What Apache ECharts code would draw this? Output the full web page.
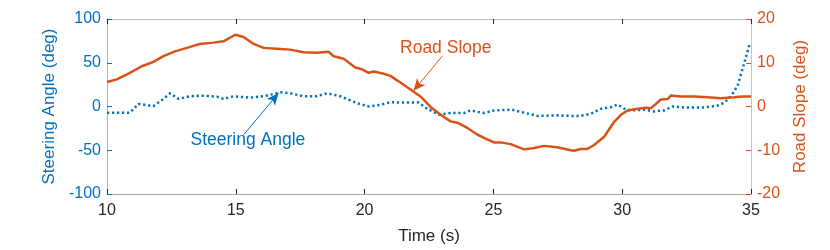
<!DOCTYPE html>
<html><head><meta charset="utf-8">
<script src="https://cdn.jsdelivr.net/npm/echarts@6/dist/echarts.min.js"></script>
<style>html,body{margin:0;padding:0;background:#fff}#c{width:830px;height:250px}</style>
</head><body><div id="c"></div>
<script>
const xTicks = [10, 15, 20, 25, 30, 35];
const leftTicks = [-100, -50, 0, 50, 100];
const rightTicks = [-20, -10, 0, 10, 20];

const slopeTime = [10.0,10.38,10.89,11.35,11.8,12.19,12.64,13.1,13.6,14.13,14.52,14.98,15.3,15.69,16.08,16.6,17.11,17.63,18.15,18.6,18.8,19.19,19.64,19.9,20.16,20.35,20.74,21.0,21.39,21.85,22.17,22.56,22.95,23.34,23.6,23.99,24.37,24.76,25.02,25.28,25.67,26.19,26.58,26.96,27.48,28.0,28.13,28.39,28.65,28.91,29.3,29.69,29.95,30.21,30.6,30.92,31.11,31.31,31.5,31.76,31.89,32.28,32.8,33.32,33.83,34.35,34.68,35.0];
const slopeValue = [5.6,6.2,7.7,9.2,10.2,11.5,12.6,13.4,14.3,14.6,14.9,16.4,15.9,14.3,13.4,13.2,13.0,12.4,12.3,12.5,11.5,10.9,8.9,8.5,7.7,8.0,7.5,7.0,5.5,3.6,2.3,-0.1,-1.9,-3.4,-3.7,-4.9,-6.4,-7.5,-8.2,-8.2,-8.6,-9.8,-9.5,-9.0,-9.3,-10.0,-10.1,-9.7,-9.7,-8.8,-6.9,-3.5,-1.9,-0.9,-0.5,-0.3,-0.4,0.6,1.6,1.7,2.5,2.3,2.3,2.1,1.9,2.1,2.3,2.3];

const steerTime = [10.0,10.89,11.22,11.8,12.19,12.45,12.77,13.23,13.74,14.26,14.52,14.91,15.56,16.08,16.73,17.11,17.63,18.15,18.54,19.06,19.7,20.16,20.61,21.0,21.52,22.1,22.43,22.88,23.34,23.86,24.11,24.63,25.02,25.73,26.19,26.71,27.48,28.0,28.39,28.78,29.17,29.56,29.82,30.08,30.34,30.86,31.24,31.63,31.95,32.41,33.19,33.71,33.96,34.22,34.48,34.74,34.94,35.0];
const steerValue = [-7.1,-7.1,3.0,0.4,8.7,15.1,8.7,11.7,12.4,11.3,8.7,11.7,10.1,11.7,16.2,15.1,11.7,11.7,15.1,11.7,3.8,0,1.9,4.9,4.5,4.5,-2.6,-9.3,-7.5,-7.5,-4.5,-7.5,-4.5,-3.7,-7.1,-10.8,-10.1,-10.8,-10.8,-8.2,-2.6,-0.7,2.3,-2.6,-4.5,-3.7,-5.6,-4.5,0,-1.1,-1.1,1.1,4.2,11.7,23.6,50,70.6,72.5];

// annotations: [arrow start, arrow end] and label centre, in data units
const slopeArrow = [[23.01, 11.5], [21.9, 3.6]];
const slopeLabel = [23.15, 13.3];
const steerArrow = [[15.3, -32.5], [16.66, 15.3]];
const steerLabel = [15.47, -38.0];

const BLUE = '#0072BD', ORANGE = '#D95319';
const FONT = 'Liberation Sans, Arial, sans-serif';

const chart = echarts.init(document.getElementById('c'), null, {renderer: 'canvas'});
const zip = (a, b) => a.map((t, i) => [t, b[i]]);

const option = {
  animation: false,
  grid: {left: 107, right: 79, top: 19, bottom: 53},
  xAxis: [{
    type: 'value', min: xTicks[0], max: xTicks[xTicks.length-1], interval: 5, position: 'bottom',
    name: 'Time (s)', nameLocation: 'middle', nameGap: 34,
    nameTextStyle: {color: '#262626', fontSize: 17, fontFamily: FONT},
    axisLine: {onZero: false, lineStyle: {color: '#a8a8a8', width: 1}},
    axisTick: {inside: true, length: 5, lineStyle: {color: '#262626'}},
    axisLabel: {color: '#262626', fontSize: 16, fontFamily: FONT, margin: 9},
    splitLine: {show: false}
  }, {
    type: 'value', min: xTicks[0], max: xTicks[xTicks.length-1], interval: 5, position: 'top',
    axisLine: {onZero: false, lineStyle: {color: '#c0c0c0', width: 1}},
    axisTick: {inside: true, length: 5, lineStyle: {color: '#262626'}},
    axisLabel: {show: false}, splitLine: {show: false}
  }],
  yAxis: [{
    type: 'value', min: leftTicks[0], max: leftTicks[leftTicks.length-1], interval: 50, position: 'left',
    name: 'Steering Angle (deg)', nameLocation: 'middle', nameGap: 43, nameRotate: 90,
    nameTextStyle: {color: BLUE, fontSize: 17, fontFamily: FONT},
    axisLine: {show: true, onZero: false, lineStyle: {color: '#8fc0e6', width: 1}},
    axisTick: {show: true, inside: true, length: 5, lineStyle: {color: BLUE}},
    axisLabel: {color: BLUE, fontSize: 16, fontFamily: FONT, margin: 6},
    splitLine: {show: false}
  }, {
    type: 'value', min: rightTicks[0], max: rightTicks[rightTicks.length-1], interval: 10, position: 'right',
    name: 'Road Slope (deg)', nameLocation: 'middle', nameGap: 41, nameRotate: 90,
    nameTextStyle: {color: ORANGE, fontSize: 17, fontFamily: FONT},
    axisLine: {show: true, onZero: false, lineStyle: {color: '#f2b49a', width: 1}},
    axisTick: {show: true, inside: true, length: 5, lineStyle: {color: ORANGE}},
    axisLabel: {color: ORANGE, fontSize: 16, fontFamily: FONT, margin: 6},
    splitLine: {show: false}
  }],
  series: [{
    name: 'Steering Angle', type: 'line', yAxisIndex: 0, xAxisIndex: 0,
    data: zip(steerTime, steerValue), showSymbol: false, symbol: 'none', smooth: false,
    lineStyle: {color: BLUE, width: 2.5, type: [2.2, 2.8]},
    markLine: {
      silent: true, symbol: ['none', 'arrow'], symbolSize: [8, 12],
      lineStyle: {color: BLUE, width: 1, type: 'solid'}, label: {show: false},
      data: [[{coord: steerArrow[0]}, {coord: steerArrow[1]}]]
    }
  }, {
    name: 'Road Slope', type: 'line', yAxisIndex: 1, xAxisIndex: 0,
    data: zip(slopeTime, slopeValue), showSymbol: false, symbol: 'none',
    lineStyle: {color: ORANGE, width: 2.5},
    markLine: {
      silent: true, symbol: ['none', 'arrow'], symbolSize: [8, 12],
      lineStyle: {color: ORANGE, width: 1, type: 'solid'}, label: {show: false},
      data: [[{coord: slopeArrow[0]}, {coord: slopeArrow[1]}]]
    }
  }]
};
chart.setOption(option);

const p1 = chart.convertToPixel({xAxisIndex: 0, yAxisIndex: 1}, slopeLabel);
const p2 = chart.convertToPixel({xAxisIndex: 0, yAxisIndex: 0}, steerLabel);
chart.setOption({
  graphic: [
    {type: 'text', x: p1[0], y: p1[1], style: {text: 'Road Slope', fill: ORANGE, font: '17.5px ' + FONT, align: 'center', verticalAlign: 'middle'}},
    {type: 'text', x: p2[0], y: p2[1], style: {text: 'Steering Angle', fill: BLUE, font: '17.5px ' + FONT, align: 'center', verticalAlign: 'middle'}}
  ]
});
</script></body></html>
